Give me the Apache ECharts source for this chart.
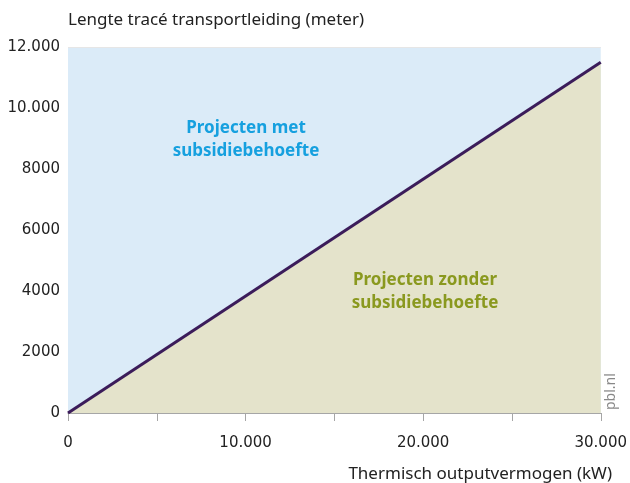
<!DOCTYPE html>
<html>
<head>
<meta charset="utf-8">
<script src="https://cdn.jsdelivr.net/npm/echarts@6/dist/echarts.min.js"></script>
<style>
  html, body { margin: 0; padding: 0; background: #fff; }
  #chart { width: 630px; height: 483px; }
</style>
</head>
<body>
<div id="chart"></div>
<script>
// grensvermogen: lengte trace waarbij geen subsidie nodig is
var outputKW = [0, 30000]
var lengteMeter = [0, 11500]
var yTicks = [0, 2000, 4000, 6000, 8000, 10000, 12000]
var xTicks = [0, 10000, 20000, 30000]

function fmt(v) {
  // 4 cijfers zonder punt, daarboven met punt
  if (v >= 10000) {
    return String(v).replace(/\B(?=(\d{3})+(?!\d))/g, '.')
  }
  return String(v)
}

var chart = echarts.init(document.getElementById('chart'))
var fontFam = '"Noto Sans", sans-serif'
var tickFont = '"DejaVu Sans", sans-serif'

var option = {
  animation: false,
  textStyle: { fontFamily: fontFam },
  grid: {
    left: 68,
    right: 29,
    top: 47,
    bottom: 70,
    show: true,
    backgroundColor: '#dbebf8',
    borderWidth: 0
  },
  xAxis: {
    type: 'value',
    min: 0,
    max: 30000,
    interval: 5000,
    axisLine: { show: true, lineStyle: { color: '#a6a6a6', width: 1 } },
    axisTick: { show: true, length: 8, inside: false, lineStyle: { color: '#a6a6a6' } },
    splitLine: { show: false },
    axisLabel: {
      color: '#222',
      fontSize: 15,
      fontFamily: tickFont,
      margin: 23,
      formatter: function (v) {
        return xTicks.indexOf(v) >= 0 ? fmt(v) : ''
      }
    }
  },
  yAxis: {
    type: 'value',
    min: 0,
    max: 12000,
    interval: 2000,
    axisLine: { show: false },
    axisTick: { show: false },
    splitLine: { show: false },
    axisLabel: {
      color: '#222',
      fontSize: 15,
      fontFamily: tickFont,
      margin: 8,
      formatter: function (v) {
        return yTicks.indexOf(v) >= 0 ? fmt(v) : ''
      }
    }
  },
  series: [
    {
      type: 'line',
      data: outputKW.map(function (x, i) { return [x, lengteMeter[i]] }),
      showSymbol: false,
      lineStyle: { color: '#3b1c5a', width: 3 },
      areaStyle: { color: '#e4e3cb', opacity: 1 },
      markLine: {
        silent: true,
        symbol: 'none',
        label: { show: false },
        lineStyle: { color: '#e6e6e6', width: 1, type: 'solid' },
        data: [{ yAxis: 12000 }]
      },
      z: 3
    }
  ],
  graphic: [
    {
      type: 'text',
      x: 68,
      y: 20,
      z: 100,
      style: {
        text: 'Lengte tracé transportleiding (meter)',
        fill: '#222',
        font: '17px ' + fontFam,
        verticalAlign: 'middle'
      }
    },
    {
      type: 'text',
      x: 612,
      y: 474,
      z: 100,
      style: {
        text: 'Thermisch outputvermogen (kW)',
        fill: '#222',
        font: '17px ' + fontFam,
        align: 'right',
        verticalAlign: 'middle'
      }
    },
    {
      type: 'text',
      x: 246,
      y: 140,
      z: 100,
      style: {
        text: 'Projecten met\nsubsidiebehoefte',
        fill: '#16a0df',
        font: 'bold 17px ' + fontFam,
        align: 'center',
        verticalAlign: 'middle',
        lineHeight: 23
      }
    },
    {
      type: 'text',
      x: 425,
      y: 292,
      z: 100,
      style: {
        text: 'Projecten zonder\nsubsidiebehoefte',
        fill: '#8a991f',
        font: 'bold 17px ' + fontFam,
        align: 'center',
        verticalAlign: 'middle',
        lineHeight: 23
      }
    },
    {
      type: 'text',
      x: 604,
      y: 410,
      z: 100,
      rotation: Math.PI / 2,
      style: { text: 'pbl.nl', fill: '#888', font: '14px ' + fontFam }
    }
  ]
}

chart.setOption(option)
</script>
</body>
</html>
